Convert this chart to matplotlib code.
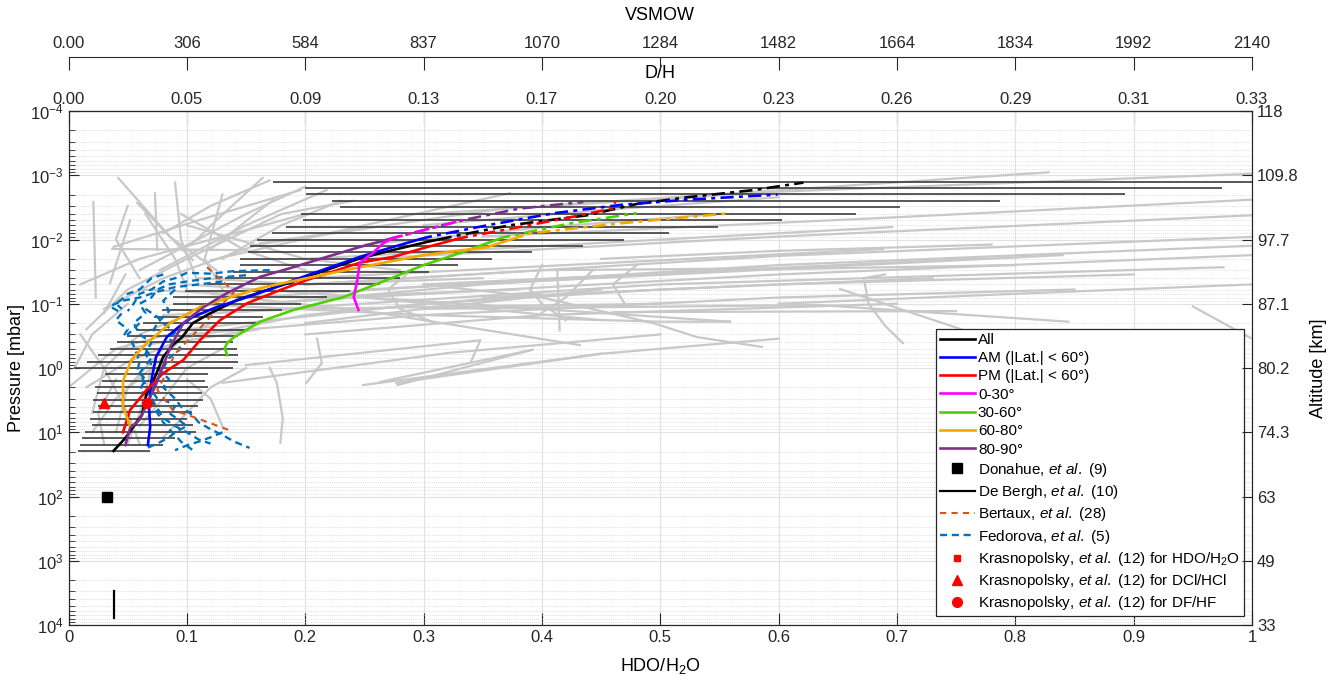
import numpy as np
import matplotlib.pyplot as plt
from matplotlib.lines import Line2D
from matplotlib.ticker import LogLocator, NullFormatter, NullLocator

plt.rcParams['font.family'] = ['Liberation Sans', 'DejaVu Sans']
plt.rcParams['mathtext.fontset'] = 'custom'
plt.rcParams['mathtext.rm'] = 'Liberation Sans'
plt.rcParams['mathtext.it'] = 'Liberation Sans:italic'
plt.rcParams['mathtext.bf'] = 'Liberation Sans:bold'
plt.rcParams['axes.edgecolor'] = '#262626'
plt.rcParams['xtick.color'] = '#262626'
plt.rcParams['ytick.color'] = '#262626'

# ---- axis tick values / labels ----
x_ticks = [0, 0.1, 0.2, 0.3, 0.4, 0.5, 0.6, 0.7, 0.8, 0.9, 1.0]
x_labels = ['0', '0.1', '0.2', '0.3', '0.4', '0.5', '0.6', '0.7', '0.8', '0.9', '1']
dh_labels = ['0.00', '0.05', '0.09', '0.13', '0.17', '0.20', '0.23', '0.26', '0.29', '0.31', '0.33']
vsmow_labels = ['0.00', '306', '584', '837', '1070', '1284', '1482', '1664', '1834', '1992', '2140']
alt_pressures = [1e-4, 1e-3, 1e-2, 1e-1, 1e0, 1e1, 1e2, 1e3, 1e4]
alt_labels = ['118', '109.8', '97.7', '87.1', '80.2', '74.3', '63', '49', '33']

# ---- individual retrieved profiles (x = HDO/H2O, p = mbar) ----
gray_profiles = [
    [(0.042, 0.0011), (0.086, 0.0092), (0.125, 0.030)],
    [(0.021, 0.0026), (0.023, 0.079)],
    [(0.073, 0.0019), (0.075, 0.0146)],
    [(0.164, 0.0011), (0.125, 0.005), (0.105, 0.0114)],
    [(0.052, 0.005), (0.035, 0.048)],
    [(0.058, 0.0027), (0.105, 0.021)],
    [(0.038, 0.013), (0.11, 0.005), (0.196, 0.0017)],
    [(0.077, 0.030), (0.15, 0.006), (0.218, 0.0017)],
    [(0.119, 0.0146), (0.173, 0.0024)],
    [(0.037, 0.014), (0.145, 0.0146)],
    [(0.12, 0.021), (0.25, 0.006), (0.373, 0.0019)],
    [(0.162, 0.0114), (0.373, 0.0032)],
    [(0.065, 0.004), (0.09, 0.02), (0.10, 0.06)],
    [(0.01, 0.05), (0.06, 0.02), (0.13, 0.009), (0.20, 0.004)],
    [(0.03, 0.12), (0.08, 0.04), (0.16, 0.012), (0.27, 0.006)],
    [(0.015, 0.25), (0.05, 0.06), (0.10, 0.02), (0.18, 0.004), (0.24, 0.0025)],
    [(0.09, 0.0013), (0.095, 0.01), (0.11, 0.05)],
    [(0.13, 0.002), (0.115, 0.02), (0.13, 0.06)],
    [(0.048, 0.035), (0.03, 0.14)],
    [(0.10, 0.006), (0.20, 0.02), (0.28, 0.03)],
    [(0.17, 0.0012), (0.12, 0.003), (0.08, 0.008)],
    [(0.20, 0.0015), (0.15, 0.004), (0.06, 0.03)],
    [(0.05, 0.003), (0.04, 0.01), (0.06, 0.04)],
    [(0.23, 0.0025), (0.18, 0.006), (0.13, 0.02)],
    [(0.095, 0.004), (0.15, 0.015), (0.20, 0.03)],
    [(0.11, 0.04), (0.20, 0.05), (0.35, 0.04)],
    [(0.06, 0.06), (0.20, 0.08), (0.38, 0.06)],
    [(0.08, 0.15), (0.20, 0.12), (0.50, 0.10)],
    [(0.30, 0.004), (0.60, 0.0018), (1.0, 0.00095)],
    [(0.35, 0.009), (0.70, 0.0045), (1.0, 0.0024)],
    [(0.25, 0.02), (0.60, 0.009), (1.0, 0.0042)],
    [(0.20, 0.05), (0.60, 0.018), (1.0, 0.0091)],
    [(0.15, 0.08), (0.60, 0.025), (1.0, 0.0125)],
    [(0.15, 0.10), (0.60, 0.035), (1.0, 0.0175)],
    [(0.10, 0.15), (0.50, 0.05), (0.976, 0.027)],
    [(0.25, 0.06), (0.84, 0.0175)],
    [(0.30, 0.05), (0.774, 0.0196)],
    [(0.20, 0.04), (0.688, 0.0141)],
    [(0.20, 0.02), (0.696, 0.0064)],
    [(0.40, 0.003), (0.828, 0.0009)],
    [(0.30, 0.12), (0.635, 0.105), (0.845, 0.19)],
    [(0.69, 0.035), (0.672, 0.04), (0.676, 0.10), (0.69, 0.22), (0.705, 0.41)],
    [(0.652, 0.059), (0.765, 0.29)],
    [(0.20, 0.05), (0.40, 0.03), (0.60, 0.028)],
    [(0.17, 0.10), (0.35, 0.05), (0.55, 0.03), (0.80, 0.025)],
    [(0.20, 0.20), (0.30, 0.12), (0.45, 0.06)],
    [(0.25, 0.08), (0.35, 0.12), (0.45, 0.18)],
    [(0.29, 0.03), (0.27, 0.06), (0.28, 0.12), (0.31, 0.20)],
    [(0.40, 0.025), (0.39, 0.06), (0.40, 0.10), (0.42, 0.18)],
    [(0.48, 0.025), (0.46, 0.05), (0.47, 0.10)],
    [(0.10, 0.25), (0.30, 0.10), (0.50, 0.06), (0.73, 0.04)],
    [(0.05, 0.50), (0.20, 0.15), (0.40, 0.07)],
    [(0.30, 0.05), (0.40, 0.08), (0.494, 0.20), (0.531, 0.33), (0.586, 0.47)],
    [(0.10, 0.10), (0.30, 0.15), (0.50, 0.19), (0.559, 0.19)],
    [(0.12, 0.07), (0.263, 0.14), (0.432, 0.44)],
    [(0.15, 0.90), (0.348, 0.37), (0.34, 0.80)],
    [(0.263, 1.65), (0.392, 0.52)],
    [(0.278, 1.84), (0.392, 0.52)],
    [(0.13, 1.7), (0.322, 0.58), (0.50, 0.30)],
    [(0.249, 1.84), (0.45, 0.60)],
    [(0.277, 1.7), (0.45, 0.60), (0.60, 0.35)],
    [(0.21, 0.35), (0.214, 0.84), (0.201, 1.7)],
    [(0.170, 1.0), (0.176, 1.7), (0.181, 6.0), (0.179, 14.6)],
    [(0.413, 0.03), (0.415, 0.26)],
    [(0.393, 0.167), (0.42, 0.08), (0.443, 0.03)],
    [(0.46, 0.135), (0.75, 0.13)],
    [(0.10, 0.05), (0.263, 0.082), (0.559, 0.19)],
    [(0.10, 0.30), (0.30, 0.15), (0.60, 0.08), (0.85, 0.06)],
    [(0.20, 0.30), (0.40, 0.15), (0.70, 0.10)],
    [(0.35, 0.08), (0.60, 0.05), (0.90, 0.035)],
    [(0.45, 0.02), (0.60, 0.015), (0.78, 0.012)],
    [(0.25, 0.012), (0.40, 0.0065), (0.55, 0.004)],
    [(0.30, 0.006), (0.45, 0.0035), (0.60, 0.0022)],
    [(0.95, 0.11), (1.0, 0.35)],
    [(0.60, 0.10), (0.80, 0.07), (1.0, 0.05)],
    [(0.01, 0.30), (0.03, 1.0), (0.05, 5.0), (0.06, 15.0)],
    [(0.005, 1.0), (0.02, 0.30), (0.05, 0.10)],
    [(0.02, 5.0), (0.03, 1.0), (0.06, 0.30), (0.10, 0.15)],
    [(0.04, 10.0), (0.05, 2.0), (0.08, 0.50), (0.12, 0.20)],
    [(0.06, 8.0), (0.08, 3.0), (0.10, 1.0), (0.13, 0.50)],
    [(0.03, 15.0), (0.025, 5.0), (0.04, 1.5)],
    [(0.10, 1.5), (0.12, 3.0), (0.13, 8.0)],
    [(0.015, 2.0), (0.05, 0.80), (0.09, 0.40), (0.16, 0.25)],
    [(0.08, 12.0), (0.10, 5.0), (0.12, 2.0), (0.15, 1.0)],
    [(0.0, 2.0), (0.04, 0.5), (0.10, 0.25)],
    [(0.02, 10.0), (0.04, 3.0), (0.07, 1.0)],
    [(0.05, 15.0), (0.06, 5.0), (0.07, 1.0), (0.10, 0.30)],
]

# ---- spread of all profiles (horizontal bars) ----
bar_p = [1.27e-3, 1.60e-3, 1.99e-3, 2.53e-3, 3.17e-3, 3.98e-3, 4.99e-3, 6.35e-3, 7.96e-3,
         1.0e-2, 1.25e-2, 1.59e-2, 2.0e-2, 2.5e-2, 3.18e-2, 3.98e-2, 4.94e-2, 6.23e-2,
         7.87e-2, 9.93e-2, 0.125, 0.158, 0.2, 0.252, 0.318, 0.394, 0.497, 0.628, 0.792,
         1.0, 1.24, 1.58, 1.97, 2.45, 3.15, 3.90, 4.83, 6.21, 7.7, 9.8, 12.3, 15.8, 19.5]
bar_lo = [0.173, 0.200, 0.201, 0.223, 0.229, 0.196, 0.198, 0.184, 0.172,
          0.159, 0.153, 0.152, 0.145, 0.145, 0.139, 0.132, 0.117, 0.098,
          0.088, 0.088, 0.079, 0.072, 0.063, 0.058, 0.049, 0.041, 0.035, 0.025, 0.016,
          0.005, 0.031, 0.028, 0.022, 0.024, 0.021, 0.025, 0.021, 0.018, 0.020, 0.014, 0.011, 0.010, 0.008]
bar_hi = [1.0, 0.975, 0.893, 0.787, 0.703, 0.665, 0.603, 0.549, 0.507,
          0.469, 0.435, 0.392, 0.358, 0.329, 0.305, 0.280, 0.263, 0.238,
          0.218, 0.196, 0.180, 0.164, 0.158, 0.149, 0.143, 0.139, 0.142, 0.143, 0.143,
          0.139, 0.118, 0.115, 0.118, 0.113, 0.114, 0.109, 0.104, 0.100, 0.105, 0.108, 0.090, 0.080, 0.069]

# ---- mean profiles ----
all_p = [19.5, 12.3, 6.4, 5.4, 2.45, 1.38, 0.67, 0.44, 0.33, 0.20, 0.14, 0.088, 0.061, 0.043,
         0.0197, 0.0146, 0.0109, 0.0085, 0.0060, 0.0042, 0.0028, 0.0022, 0.0017, 0.0013]
all_x = [0.038, 0.048, 0.059, 0.062, 0.066, 0.073, 0.080, 0.088, 0.096, 0.105, 0.12, 0.142, 0.168, 0.193,
         0.246, 0.274, 0.303, 0.331, 0.373, 0.438, 0.480, 0.523, 0.579, 0.621]
am_p = [15.8, 8.3, 4.0, 1.54, 0.67, 0.33, 0.23, 0.16, 0.113, 0.079, 0.057, 0.043, 0.0187, 0.0131,
        0.0092, 0.0060, 0.0039, 0.0029, 0.0024, 0.0020]
am_x = [0.067, 0.069, 0.068, 0.070, 0.074, 0.083, 0.093, 0.105, 0.125, 0.151, 0.173, 0.190, 0.246, 0.274,
        0.303, 0.354, 0.410, 0.466, 0.523, 0.599]
pm_p = [10.0, 4.5, 2.2, 1.2, 0.75, 0.37, 0.18, 0.098, 0.061, 0.043, 0.023, 0.0187, 0.0131, 0.0095,
        0.0064, 0.0045, 0.0033, 0.0026]
pm_x = [0.046, 0.052, 0.066, 0.080, 0.097, 0.111, 0.128, 0.151, 0.179, 0.201, 0.246, 0.274, 0.303, 0.331,
        0.381, 0.424, 0.460, 0.462]
lat0_p = [0.125, 0.079, 0.043, 0.023, 0.0162, 0.0114, 0.0095, 0.005]
lat0_x = [0.245, 0.241, 0.244, 0.246, 0.257, 0.266, 0.274, 0.333]
lat30_p = [0.63, 0.49, 0.41, 0.34, 0.19, 0.125, 0.079, 0.048, 0.025, 0.0162, 0.0093, 0.0056, 0.0039]
lat30_x = [0.134, 0.132, 0.134, 0.139, 0.162, 0.190, 0.232, 0.262, 0.300, 0.331, 0.367, 0.424, 0.480]
lat60_p = [8.0, 4.0, 1.6, 0.75, 0.41, 0.20, 0.113, 0.082, 0.057, 0.043, 0.027, 0.0175, 0.0131,
           0.008, 0.0056, 0.0039]
lat60_x = [0.052, 0.046, 0.046, 0.053, 0.066, 0.086, 0.111, 0.134, 0.162, 0.193, 0.246, 0.300, 0.354,
           0.390, 0.466, 0.559]
lat80_p = [15.8, 8.6, 6.4, 1.97, 0.47, 0.20, 0.113, 0.068, 0.038, 0.027, 0.0187, 0.0131, 0.0095,
           0.005, 0.0033, 0.0026]
lat80_x = [0.048, 0.052, 0.060, 0.073, 0.086, 0.097, 0.114, 0.134, 0.162, 0.190, 0.218, 0.246, 0.274,
           0.333, 0.381, 0.435]

# ---- earlier measurements ----
fedorova_profiles = [
    [(0.17, 0.030), (0.14, 0.031), (0.12, 0.034), (0.10, 0.033), (0.09, 0.04), (0.08, 0.045),
     (0.07, 0.06), (0.06, 0.07), (0.055, 0.10), (0.05, 0.13)],
    [(0.15, 0.036), (0.12, 0.04), (0.10, 0.045), (0.085, 0.05), (0.075, 0.06), (0.07, 0.08), (0.06, 0.10),
     (0.065, 0.14), (0.055, 0.20), (0.06, 0.30), (0.07, 0.40), (0.065, 0.60), (0.07, 0.90)],
    [(0.13, 0.045), (0.11, 0.05), (0.09, 0.055), (0.075, 0.065), (0.06, 0.08), (0.045, 0.09),
     (0.035, 0.11), (0.045, 0.14), (0.04, 0.18), (0.05, 0.25), (0.045, 0.35)],
    [(0.065, 0.12), (0.075, 0.16), (0.08, 0.20), (0.09, 0.28), (0.085, 0.35), (0.095, 0.50),
     (0.085, 0.70), (0.08, 1.0), (0.075, 1.5), (0.07, 2.2), (0.075, 3.0)],
    [(0.06, 0.20), (0.05, 0.30), (0.055, 0.45), (0.06, 0.80), (0.058, 1.1), (0.065, 1.5), (0.06, 2.2),
     (0.07, 3.0), (0.075, 4.2), (0.08, 6.0), (0.09, 8.0), (0.10, 10.0), (0.11, 13.0), (0.12, 15.0)],
    [(0.075, 1.0), (0.085, 1.5), (0.08, 2.0), (0.09, 3.0), (0.095, 4.0), (0.105, 5.5), (0.11, 7.0),
     (0.12, 9.0), (0.13, 11.0), (0.14, 14.0), (0.153, 17.5)],
    [(0.065, 0.50), (0.07, 0.70), (0.06, 1.2), (0.065, 1.8), (0.068, 2.5), (0.072, 3.5), (0.075, 5.0),
     (0.08, 7.0), (0.085, 9.0), (0.09, 11.0), (0.095, 14.0), (0.105, 19.0)],
    [(0.08, 0.035), (0.07, 0.04), (0.06, 0.06), (0.05, 0.07), (0.045, 0.085), (0.04, 0.10), (0.045, 0.12)],
    [(0.08, 3.0), (0.09, 4.0), (0.085, 5.0), (0.10, 8.0), (0.09, 10.0), (0.085, 12.0), (0.075, 15.0),
     (0.065, 18.0)],
    [(0.09, 0.06), (0.08, 0.09), (0.085, 0.13), (0.075, 0.20), (0.07, 0.30)],
    [(0.13, 10.0), (0.12, 12.0), (0.11, 14.0), (0.10, 16.0), (0.09, 19.0)],
]
bertaux_x = [0.117, 0.140, 0.130, 0.110, 0.090, 0.080, 0.075, 0.088, 0.108, 0.136]
bertaux_p = [0.027, 0.065, 0.10, 0.25, 0.60, 1.5, 2.2, 4.5, 6.0, 9.3]
donahue_x, donahue_p = 0.0325, 100
debergh_x = [0.0387, 0.0387]
debergh_p = [3000, 7800]
kras_hdo = (0.066, 3.5)
kras_dcl = (0.030, 3.5)
kras_df = (0.066, 3.5)

fig = plt.figure(figsize=(13.39, 6.81), dpi=100)
ax = fig.add_axes([0.0512, 0.0822, 0.8838, 0.7548])

for prof in gray_profiles:
    xs, ps = zip(*prof)
    ax.plot(xs, ps, color='#C8C8C8', lw=1.6, zorder=2)

ax.hlines(bar_p, bar_lo, bar_hi, color='#3C3C3C', lw=1.2, zorder=3)

for prof in fedorova_profiles:
    xs, ps = zip(*prof)
    ax.plot(xs, ps, color='#0072BD', lw=1.7, ls=(0, (3, 2)), zorder=4)
ax.plot(bertaux_x, bertaux_p, color='#D95319', lw=1.5, ls=(0, (3, 2.5)), zorder=4)


def split_at(x, p, p0=0.01):
    x = np.asarray(x, float)
    p = np.asarray(p, float)
    i = int(np.argmax(p < p0))
    lp = np.log10(p)
    xc = np.interp(np.log10(p0), [lp[i], lp[i - 1]], [x[i], x[i - 1]])
    return (np.r_[x[:i], xc], np.r_[p[:i], p0]), (np.r_[xc, x[i:]], np.r_[p0, p[i:]])


curves = [
    (all_x, all_p, 'black'),
    (am_x, am_p, '#0000FF'),
    (pm_x, pm_p, '#FF0000'),
    (lat30_x, lat30_p, '#4FD000'),
    (lat60_x, lat60_p, '#F5A800'),
    (lat80_x, lat80_p, '#7E2F8E'),
    (lat0_x, lat0_p, '#FF00FF'),
]
for cx, cp, col in curves:
    (sx, sp), (dx, dp) = split_at(cx, cp)
    ax.plot(sx, sp, color=col, lw=1.9, zorder=6)
    ax.plot(dx, dp, color=col, lw=1.9, ls=(0, (5, 2, 1.5, 2)), zorder=6)

ax.plot(donahue_x, donahue_p, 's', color='black', ms=7, zorder=7)
ax.plot(debergh_x, debergh_p, color='black', lw=1.6, zorder=7)
ax.plot(*kras_hdo, 's', color='red', ms=4, zorder=7)
ax.plot(*kras_dcl, '^', color='red', ms=7, zorder=7)
ax.plot(*kras_df, 'o', color='red', ms=7, zorder=7)

ax.set_yscale('log')
ax.set_ylim(1e4, 1e-4)
ax.set_xlim(0, 1)
ax.set_xticks(x_ticks, labels=x_labels)
ax.yaxis.set_major_locator(LogLocator(base=10, numticks=20))
ax.yaxis.set_minor_locator(LogLocator(base=10, subs=np.arange(2, 10), numticks=200))
ax.yaxis.set_minor_formatter(NullFormatter())
ax.tick_params(which='both', direction='in', top=False, right=False, labelsize=12)
ax.tick_params(which='major', length=7)
ax.tick_params(which='minor', length=4)
ax.tick_params(axis='x', which='major', length=9)
ax.grid(True, which='major', color='#E2E2E2', lw=0.9)
ax.yaxis.grid(True, which='minor', color='#D4D4D4', ls=(0, (1, 1.5)), lw=0.6)
ax.set_axisbelow(True)
ax.set_xlabel('HDO/H$_2$O', fontsize=13, labelpad=8)
ax.set_ylabel('Pressure [mbar]', fontsize=13, labelpad=4)

axr = ax.twinx()
axr.set_yscale('log')
axr.set_ylim(1e4, 1e-4)
axr.set_yticks(alt_pressures, labels=alt_labels)
axr.yaxis.set_minor_locator(NullLocator())
axr.tick_params(direction='in', length=7, labelsize=12)
axr.set_ylabel('Altitude [km]', fontsize=13, labelpad=8)

sec_dh = ax.secondary_xaxis('top')
sec_dh.set_xticks(x_ticks, labels=dh_labels)
sec_dh.tick_params(direction='in', length=9, labelsize=12, pad=3)
sec_dh.set_xlabel('D/H', fontsize=13, labelpad=10)

sec_vs = ax.secondary_xaxis(1.105)
sec_vs.set_xticks(x_ticks, labels=vsmow_labels)
sec_vs.tick_params(direction='in', length=9, labelsize=12, pad=4)
sec_vs.set_xlabel('VSMOW', fontsize=13, labelpad=12)

handles = [
    Line2D([], [], color='black', lw=1.9),
    Line2D([], [], color='#0000FF', lw=1.9),
    Line2D([], [], color='#FF0000', lw=1.9),
    Line2D([], [], color='#FF00FF', lw=1.9),
    Line2D([], [], color='#4FD000', lw=1.9),
    Line2D([], [], color='#F5A800', lw=1.9),
    Line2D([], [], color='#7E2F8E', lw=1.9),
    Line2D([], [], color='black', marker='s', ls='none', ms=7),
    Line2D([], [], color='black', lw=1.6),
    Line2D([], [], color='#D95319', lw=1.5, ls=(0, (3, 2.5))),
    Line2D([], [], color='#0072BD', lw=1.7, ls=(0, (3, 2))),
    Line2D([], [], color='red', marker='s', ls='none', ms=4),
    Line2D([], [], color='red', marker='^', ls='none', ms=7),
    Line2D([], [], color='red', marker='o', ls='none', ms=7),
]
labels = [
    'All',
    'AM (|Lat.| < 60°)',
    'PM (|Lat.| < 60°)',
    '0-30°',
    '30-60°',
    '60-80°',
    '80-90°',
    r'Donahue, $\mathit{et\ al.}$ (9)',
    r'De Bergh, $\mathit{et\ al.}$ (10)',
    r'Bertaux, $\mathit{et\ al.}$ (28)',
    r'Fedorova, $\mathit{et\ al.}$ (5)',
    r'Krasnopolsky, $\mathit{et\ al.}$ (12) for HDO/H$_2$O',
    r'Krasnopolsky, $\mathit{et\ al.}$ (12) for DCl/HCl',
    r'Krasnopolsky, $\mathit{et\ al.}$ (12) for DF/HF',
]
leg = ax.legend(handles, labels, loc='lower right', bbox_to_anchor=(0.993, 0.017),
                fontsize=11, frameon=True, fancybox=False, framealpha=1,
                edgecolor='#262626', handlelength=2.3, handletextpad=0.2,
                labelspacing=0.28, borderpad=0.25, borderaxespad=0)
leg.get_frame().set_linewidth(0.9)
leg.set_zorder(10)

fig.savefig('out.png', dpi=100)
